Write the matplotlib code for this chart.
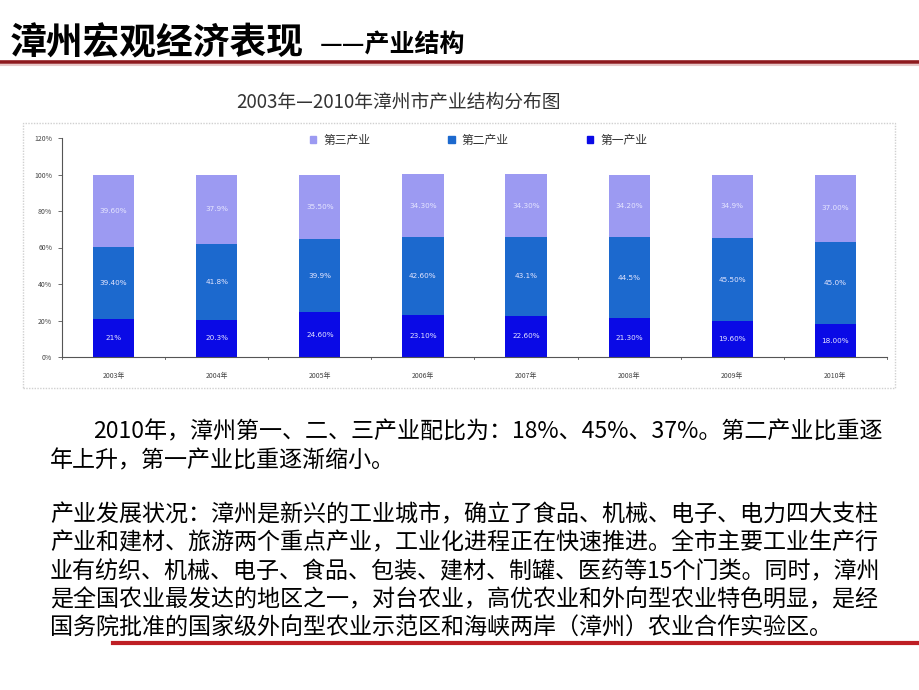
import matplotlib
matplotlib.use("Agg")
import matplotlib.pyplot as plt
from matplotlib.patches import Rectangle, Patch
from matplotlib.lines import Line2D

plt.rcParams['font.family'] = ['Noto Sans CJK SC', 'DejaVu Sans']

years = ["2003年", "2004年", "2005年", "2006年", "2007年", "2008年", "2009年", "2010年"]
primary = [21.0, 20.3, 24.6, 23.1, 22.6, 21.3, 19.6, 18.0]
secondary = [39.4, 41.8, 39.9, 42.6, 43.1, 44.5, 45.5, 45.0]
tertiary = [39.6, 37.9, 35.5, 34.3, 34.3, 34.2, 34.9, 37.0]
primary_labels = ["21%", "20.3%", "24.60%", "23.10%", "22.60%", "21.30%", "19.60%", "18.00%"]
secondary_labels = ["39.40%", "41.8%", "39.9%", "42.60%", "43.1%", "44.5%", "45.50%", "45.0%"]
tertiary_labels = ["39.60%", "37.9%", "35.50%", "34.30%", "34.30%", "34.20%", "34.9%", "37.00%"]
series_names = ["第三产业", "第二产业", "第一产业"]
yticks = [0, 20, 40, 60, 80, 100, 120]

c_prim = "#0A0AE6"
c_sec = "#1C69CE"
c_ter = "#9C9AF2"

W, H = 920, 690
fig = plt.figure(figsize=(W / 100, H / 100), dpi=100)

def fx(x):
    return x / W

def fy(y):
    return 1 - y / H

# Header
fig.text(fx(10), fy(44), "漳州宏观经济表现", fontsize=26.5, fontweight='bold', va='center', ha='left', color='black')
fig.text(fx(320), fy(46), "——产业结构", fontsize=18, fontweight='bold', va='center', ha='left', color='black')
fig.add_artist(Line2D([0, 1], [fy(62), fy(62)], color="#8E1A1E", lw=2.6))
fig.add_artist(Line2D([0, 1], [fy(64.5), fy(64.5)], color="#E8C8C8", lw=1.5))

# chart frame
fig.add_artist(Rectangle((fx(23), fy(388)), fx(895) - fx(23), fy(123) - fy(388),
                         fill=False, edgecolor="#D0D0D0", lw=1.0, linestyle=(0, (1, 1))))
fig.text(fx(398), fy(102), "2003年—2010年漳州市产业结构分布图", fontsize=13.5, ha='center', va='center', color="#333333")

# axes
ax = fig.add_axes([fx(62), fy(357), fx(887) - fx(62), fy(138) - fy(357)])
x = list(range(len(years)))
bw = 0.4
bottom2 = primary
bottom3 = [a + b for a, b in zip(primary, secondary)]
ax.bar(x, primary, width=bw, color=c_prim, label=series_names[2])
ax.bar(x, secondary, width=bw, bottom=bottom2, color=c_sec, label=series_names[1])
ax.bar(x, tertiary, width=bw, bottom=bottom3, color=c_ter, label=series_names[0])

lab_color = "#E6E6FF"
for i in x:
    ax.text(i, primary[i] / 2, primary_labels[i], ha='center', va='center', fontsize=5.2, color=lab_color, family='DejaVu Sans')
    ax.text(i, bottom2[i] + secondary[i] / 2, secondary_labels[i], ha='center', va='center', fontsize=5.2, color=lab_color, family='DejaVu Sans')
    ax.text(i, bottom3[i] + tertiary[i] / 2, tertiary_labels[i], ha='center', va='center', fontsize=5.2, color=lab_color, family='DejaVu Sans')

ax.set_xlim(-0.5, len(years) - 0.5)
ax.set_ylim(0, 120)
ax.set_yticks(yticks)
ax.set_yticklabels([f"{v}%" for v in yticks], fontsize=5, color="#444444")
ax.set_xticks(x)
ax.set_xticklabels(years, fontsize=5, color="#444444")
ax.tick_params(axis='x', length=0, pad=11)
ax.tick_params(axis='y', length=3, width=0.6, color="#555555", pad=4)
for i in range(len(years) + 1):
    ax.plot([i - 0.5, i - 0.5], [0, -1.2], color="#555555", lw=0.6, clip_on=False)
for s in ['top', 'right']:
    ax.spines[s].set_visible(False)
ax.spines['left'].set_color("#555555")
ax.spines['bottom'].set_color("#555555")
ax.spines['left'].set_linewidth(0.8)
ax.spines['bottom'].set_linewidth(0.8)

handles = [Patch(color=c_ter), Patch(color=c_sec), Patch(color=c_prim)]
ax.legend(handles, series_names, loc='center', bbox_to_anchor=(0.505, 0.99), ncol=3,
          frameon=False, fontsize=8.5, handlelength=0.55, handleheight=0.55,
          columnspacing=6.6, handletextpad=0.6, labelcolor="#333333")

# Body text
fs = 16.6
fig.text(fx(93), fy(432), "2010年，漳州第一、二、三产业配比为：18%、45%、37%。第二产业比重逐",
         fontsize=fs, va='center', ha='left', color='black')
fig.text(fx(50), fy(461), "年上升，第一产业比重逐渐缩小。", fontsize=fs, va='center', ha='left', color='black')
lines = [
    "产业发展状况：漳州是新兴的工业城市，确立了食品、机械、电子、电力四大支柱",
    "产业和建材、旅游两个重点产业，工业化进程正在快速推进。全市主要工业生产行",
    "业有纺织、机械、电子、食品、包装、建材、制罐、医药等15个门类。同时，漳州",
    "是全国农业最发达的地区之一，对台农业，高优农业和外向型农业特色明显，是经",
    "国务院批准的国家级外向型农业示范区和海峡两岸（漳州）农业合作实验区。",
]
for k, t in enumerate(lines):
    fig.text(fx(50), fy(515 + 28.3 * k), t, fontsize=fs, va='center', ha='left', color='black')

fig.add_artist(Line2D([fx(113), 1], [fy(643), fy(643)], color="#BE1E24", lw=3))

fig.savefig("out.png", dpi=100)
